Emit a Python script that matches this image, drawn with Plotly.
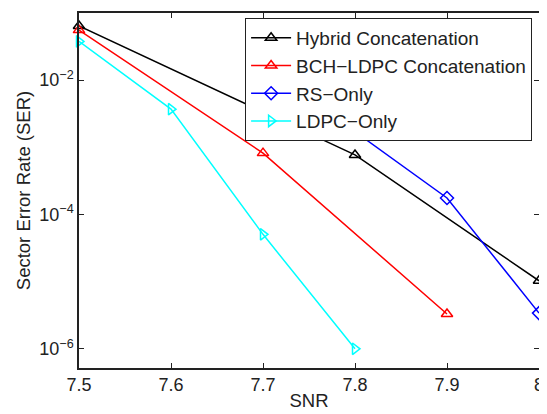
import plotly.graph_objects as go

snr_hybrid = [7.5, 7.8, 8.0]
ser_hybrid = [0.064, 7.7e-4, 1.03e-5]

snr_bch = [7.5, 7.7, 7.9]
ser_bch = [0.0556, 8.2e-4, 3.3e-6]

snr_rs = [7.7, 7.9, 8.0]
ser_rs = [0.0166, 1.76e-4, 3.4e-6]

snr_ldpc = [7.5, 7.6, 7.7, 7.8]
ser_ldpc = [0.0378, 3.7e-3, 5.06e-5, 1.0e-6]

x_ticks = [7.5, 7.6, 7.7, 7.8, 7.9, 8.0]
x_tick_text = ["7.5", "7.6", "7.7", "7.8", "7.9", "8"]
y_ticks = [1e-6, 1e-4, 1e-2]
y_tick_text = ["10<sup>−6</sup>", "10<sup>−4</sup>", "10<sup>−2</sup>"]

series = [
    ("Hybrid Concatenation", snr_hybrid, ser_hybrid, "black", "triangle-up-open"),
    ("BCH−LDPC Concatenation", snr_bch, ser_bch, "red", "triangle-up-open"),
    ("RS−Only", snr_rs, ser_rs, "blue", "diamond-open"),
    ("LDPC−Only", snr_ldpc, ser_ldpc, "cyan", "triangle-right-open"),
]

fig = go.Figure()
for name, xs, ys, col, sym in series:
    fig.add_trace(go.Scatter(
        x=xs, y=ys, name=name, mode="lines+markers",
        line=dict(color=col, width=1.5),
        marker=dict(symbol=sym, size=10, color=col, line=dict(color=col, width=1.5)),
        cliponaxis=False,
    ))

font = "Liberation Sans, Arial, Helvetica, sans-serif"
# The page body has an 8px margin, so the figure is sized to fill the rest of the window.
fig.update_layout(
    width=539, height=406,
    margin=dict(l=71, r=8, t=3, b=46),
    paper_bgcolor="white", plot_bgcolor="white",
    font=dict(family=font, size=18, color="#222"),
    showlegend=True,
    legend=dict(
        x=0.985, y=0.986, xanchor="right", yanchor="top",
        bgcolor="white", bordercolor="#222", borderwidth=1,
        font=dict(size=19, color="#222"),
        tracegroupgap=0, itemwidth=40,
    ),
    xaxis=dict(
        range=[7.5, 8.0], tickvals=x_ticks, ticktext=x_tick_text,
        ticks="inside", ticklen=5, tickcolor="#222",
        showline=True, linecolor="#222", linewidth=1.5, mirror="ticks",
        showgrid=False, zeroline=False,
        title=dict(text="SNR", standoff=0, font=dict(size=18.5)),
        tickfont=dict(size=18),
    ),
    yaxis=dict(
        type="log", range=[-6.286, -1.0], tickvals=y_ticks, ticktext=y_tick_text,
        ticks="inside", ticklen=5, tickcolor="#222",
        showline=True, linecolor="#222", linewidth=1.5, mirror="ticks",
        showgrid=False, zeroline=False,
        title=dict(text="Sector Error Rate (SER)", standoff=4, font=dict(size=18.5)),
        tickfont=dict(size=18),
    ),
)

fig.write_html("out.html")
